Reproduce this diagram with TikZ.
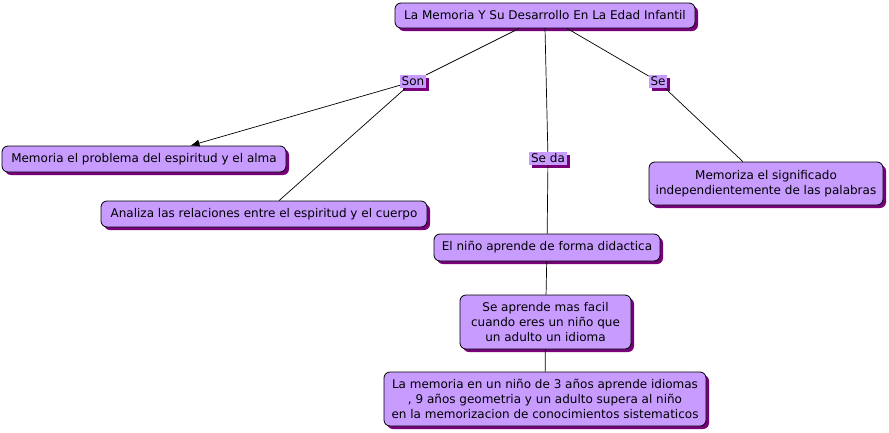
\documentclass[tikz,border=0pt]{standalone}
\usepackage{fontspec}
\setmainfont{DejaVu Sans}
\usetikzlibrary{shadows,arrows.meta}
\definecolor{boxfill}{RGB}{200,155,255}
\definecolor{shadowc}{RGB}{120,0,120}
\tikzset{
  concept/.style={draw=black, line width=0.8pt, fill=boxfill, rounded corners=6pt,
    font=\fontsize{12}{14.8}\selectfont, align=center, inner sep=2pt,
    general shadow={fill=shadowc, shadow xshift=3pt, shadow yshift=-3pt}},
  linkl/.style={fill=boxfill, font=\fontsize{12}{12}\selectfont, inner sep=1pt,
    general shadow={fill=shadowc, shadow xshift=3pt, shadow yshift=-3pt}},
  conn/.style={draw=black, line width=0.7pt},
}
\begin{document}
\begin{tikzpicture}[x=1pt,y=-1pt]
\useasboundingbox (0,0) rectangle (889,432);
\node[concept, minimum width=300pt, minimum height=25pt] (title) at (545,15.5) {La Memoria Y Su Desarrollo En La Edad Infantil};
\node[linkl, minimum width=26pt, minimum height=13pt] (son) at (413,81.5) {Son};
\node[linkl, minimum width=18pt, minimum height=13pt] (se) at (658,81.5) {Se};
\node[linkl, minimum width=38pt, minimum height=13pt] (seda) at (548,158.5) {Se da};
\node[concept, minimum width=284pt, minimum height=26pt] (mem) at (144,159) {Memoria el problema del espiritud y el alma};
\node[concept, minimum width=326pt, minimum height=26pt] (ana) at (264,214) {Analiza las relaciones entre el espiritud y el cuerpo};
\node[concept, minimum width=234pt, minimum height=43pt] (memz) at (766,183.5) {Memoriza el significado\\independientemente de las palabras};
\node[concept, minimum width=226pt, minimum height=27pt] (nino) at (547,247.5) {El niño aprende de forma didactica};
\node[concept, minimum width=171pt, minimum height=54pt] (apr) at (545.5,322) {Se aprende mas facil\\cuando eres un niño que\\un adulto un idioma};
\node[concept, minimum width=322pt, minimum height=54pt] (lam) at (545,399) {La memoria en un niño de 3 años aprende idiomas\\, 9 años geometria y un adulto supera al niño\\en la memorizacion de conocimientos sistematicos};
\draw[conn] (title) -- (son);
\draw[conn, -{Latex[length=9pt,width=7pt]}] (son) -- (mem);
\draw[conn] (son) -- (ana);
\draw[conn] (title) -- (se);
\draw[conn] (se) -- (memz);
\coordinate (tA) at (545,28);
\draw[conn] (tA) -- (seda);
\draw[conn] (seda) -- (nino);
\draw[conn] (nino) -- (apr);
\draw[conn] (apr) -- (lam);
\end{tikzpicture}
\end{document}
